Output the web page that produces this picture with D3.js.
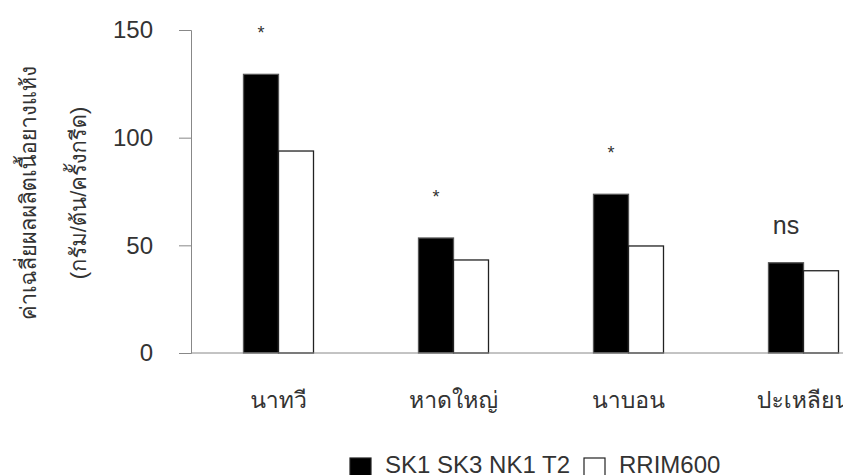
<!DOCTYPE html>
<html>
<head>
<meta charset="utf-8">
<script src="https://cdn.jsdelivr.net/npm/d3@7"></script>
<style>
  body { margin: 0; background: #fff; }
  text { font-family: "Liberation Sans", Arial, sans-serif; fill: #333; }
  .thai { font-family: "Liberation Sans", Arial, "Loma", "Waree", "Garuda", "Noto Sans Thai", sans-serif; }
</style>
</head>
<body>
<div id="chart"></div>
<script>
var categories = ["นาทวี", "หาดใหญ่", "นาบอน", "ปะเหลียน"];
var seriesNames = ["SK1 SK3 NK1 T2", "RRIM600"];
var clonesMix = [129.4, 53.4, 73.7, 41.9];
var rrim600 = [93.8, 43.2, 49.7, 38.2];
var signif = ["*", "*", "*", "ns"];
var yTicks = [0, 50, 100, 150];

var svgWidth = 843;
var svgHeight = 475;

var margin = {top: 30, right: 0, bottom: 122, left: 191};
var height = svgHeight - margin.top - margin.bottom;
// the original is cropped on the right, the 4th group runs past the edge
var bandsWidth = 700;

var svg = d3.select("#chart")
  .append("svg")
  .attr("width", svgWidth)
  .attr("height", svgHeight);

var chartGroup = svg.append("g")
  .attr("transform", `translate(${margin.left}, ${margin.top})`);

var yLinearScale = d3.scaleLinear()
  .domain([0, 150])
  .range([height, 0]);

var xBand = d3.scaleBand()
  .domain(categories)
  .range([0, bandsWidth])
  .paddingInner(0.6)
  .paddingOuter(0.3);

var xSeries = d3.scaleBand()
  .domain(seriesNames)
  .range([0, xBand.bandwidth()]);

var data = categories.map(function(c, i) {
  return {cat: c, values: [clonesMix[i], rrim600[i]], sig: signif[i]};
});

// y axis
var leftAxis = d3.axisLeft(yLinearScale)
  .tickValues(yTicks)
  .tickSize(12)
  .tickPadding(26);

var yAxis = chartGroup.append("g").call(leftAxis);
yAxis.select(".domain").attr("stroke", "#888");
yAxis.selectAll(".tick line").attr("stroke", "#888");
yAxis.selectAll(".tick text")
  .attr("font-size", 24)
  .attr("font-family", "Liberation Sans, Arial, sans-serif")
  .attr("fill", "#3a3a3a");

// bars
var groups = chartGroup.selectAll(".group")
  .data(data)
  .enter()
  .append("g")
  .attr("class", "group")
  .attr("transform", d => `translate(${xBand(d.cat)}, 0)`);

groups.selectAll("rect")
  .data(d => d.values.map((v, j) => ({name: seriesNames[j], value: v})))
  .enter()
  .append("rect")
  .attr("x", d => xSeries(d.name))
  .attr("y", d => yLinearScale(d.value))
  .attr("width", xSeries.bandwidth())
  .attr("height", d => height - yLinearScale(d.value))
  .attr("fill", d => d.name === seriesNames[0] ? "#000" : "#fff")
  .attr("stroke", d => d.name === seriesNames[0] ? "#555" : "#222")
  .attr("stroke-width", 1.3);

// x axis line (runs to edge of picture)
chartGroup.append("line")
  .attr("x1", 0)
  .attr("x2", svgWidth - margin.left)
  .attr("y1", yLinearScale(0))
  .attr("y2", yLinearScale(0))
  .attr("stroke", "#888");

// significance marks over the first bar of each group
groups.append("text")
  .attr("x", xSeries(seriesNames[0]) + xSeries.bandwidth() / 2)
  .attr("y", d => yLinearScale(d.values[0]) - (d.sig === "ns" ? 29 : 35))
  .attr("text-anchor", "middle")
  .attr("font-size", d => d.sig === "ns" ? 25 : 18)
  .attr("fill", "#222")
  .text(d => d.sig);

// category labels
chartGroup.selectAll(".cat")
  .data(categories)
  .enter()
  .append("text")
  .attr("class", "cat thai")
  .attr("x", d => xBand(d) + xBand.bandwidth() / 2)
  .attr("y", height + 55)
  .attr("text-anchor", "middle")
  .attr("font-size", 23)
  .attr("fill", "#3a3a3a")
  .text(d => d);

// y label (two lines)
var ylabelsGroup = svg.append("g")
  .attr("transform", "translate(0, 193) rotate(-90)");

ylabelsGroup.append("text")
  .attr("class", "thai")
  .attr("x", 0)
  .attr("y", 36)
  .attr("text-anchor", "middle")
  .attr("font-size", 22)
  .text("ค่าเฉลี่ยผลผลิตเนื้อยางแห้ง");

ylabelsGroup.append("text")
  .attr("class", "thai")
  .attr("x", 0)
  .attr("y", 86)
  .attr("text-anchor", "middle")
  .attr("font-size", 22)
  .text("(กรัม/ต้น/ครั้งกรีด)");

// legend
var legend = svg.append("g")
  .attr("transform", `translate(350, ${svgHeight - 2})`);

var legendItems = [
  {name: seriesNames[0], fill: "#000", x: 0},
  {name: seriesNames[1], fill: "#fff", x: 234}
];

var items = legend.selectAll(".item")
  .data(legendItems)
  .enter()
  .append("g")
  .attr("transform", d => `translate(${d.x}, 0)`);

items.append("rect")
  .attr("x", 0)
  .attr("y", -15)
  .attr("width", 21)
  .attr("height", 18)
  .attr("fill", d => d.fill)
  .attr("stroke", "#222")
  .attr("stroke-width", 1.2);

items.append("text")
  .attr("x", 35)
  .attr("y", 0)
  .attr("font-size", 24)
  .attr("fill", "#3a3a3a")
  .text(d => d.name);
</script>
</body>
</html>
